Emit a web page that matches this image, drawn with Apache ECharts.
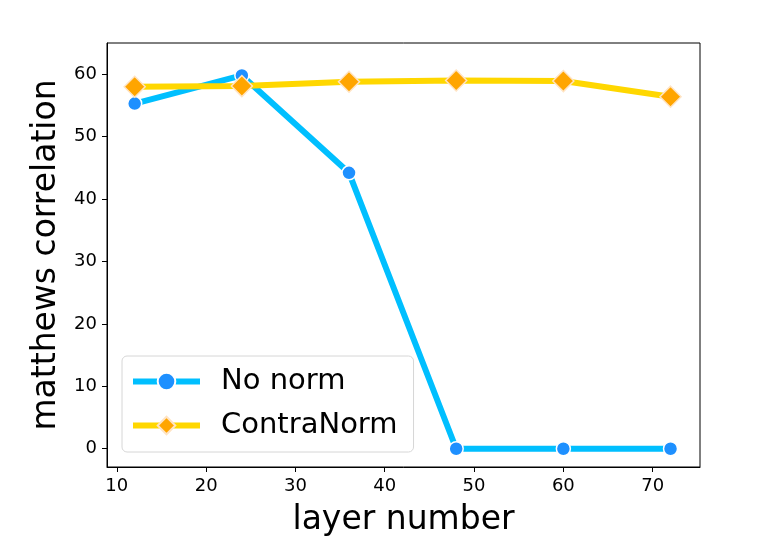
<!DOCTYPE html>
<html lang="en">
<head>
    <meta charset="UTF-8">
    <title>matthews correlation vs layer number</title>
    <script src="https://cdn.jsdelivr.net/npm/echarts@6/dist/echarts.min.js"></script>
    <style>
        html, body { margin: 0; padding: 0; background: #fff; }
        #chart { width: 761px; height: 544px; }
    </style>
</head>
<body>
    <div id="chart"></div>
    <script>
        const layers = [12, 24, 36, 48, 60, 72];
        const noNorm = [55.3, 59.8, 44.2, 0, 0, 0];
        const contraNorm = [58.0, 58.1, 58.8, 59.0, 58.9, 56.4];
        const xTicks = [10, 20, 30, 40, 50, 60, 70];
        const yTicks = [0, 10, 20, 30, 40, 50, 60];

        const font = 'DejaVu Sans';

        function pairs(ys){
            return layers.map((x, i) => [x, ys[i]]);
        }

        const chart = echarts.init(document.getElementById('chart'));
        const option = {
            animation: false,
            grid: {
                left: 107, right: 61, top: 43, bottom: 77,
                show: true, borderColor: '#000', borderWidth: 1
            },
            legend: {
                orient: 'vertical',
                left: 122, top: 356,
                padding: [11, 16, 12, 8],
                itemGap: 15,
                itemWidth: 67,
                itemHeight: 22,
                borderColor: '#d6d6d6',
                borderWidth: 1,
                borderRadius: 5,
                backgroundColor: 'rgba(255,255,255,0.8)',
                lineStyle: { width: 6 },
                textStyle: { fontFamily: font, fontSize: 29, color: '#000', padding: [0, 0, 0, 16] },
                data: ['No norm', 'ContraNorm']
            },
            xAxis: {
                type: 'value',
                min: 8.9, max: 75.3,
                name: 'layer number',
                nameLocation: 'middle',
                nameGap: 37,
                nameTextStyle: { fontFamily: font, fontSize: 33, color: '#000' },
                axisLine: { show: true, onZero: false, lineStyle: { color: '#000' } },
                axisTick: { show: true, length: 5, customValues: xTicks, lineStyle: { color: '#000' } },
                axisLabel: { customValues: xTicks, fontFamily: font, fontSize: 18, color: '#000', margin: 10 },
                splitLine: { show: false }
            },
            yAxis: {
                type: 'value',
                min: -2.93, max: 65,
                name: 'matthews correlation',
                nameLocation: 'middle',
                nameGap: 42,
                nameTextStyle: { fontFamily: font, fontSize: 33, color: '#000' },
                axisLine: { show: true, onZero: false, lineStyle: { color: '#000' } },
                axisTick: { show: true, length: 5, customValues: yTicks, lineStyle: { color: '#000' } },
                axisLabel: { customValues: yTicks, fontFamily: font, fontSize: 18, color: '#000', margin: 10 },
                splitLine: { show: false }
            },
            series: [
                {
                    name: 'No norm',
                    type: 'line',
                    data: pairs(noNorm),
                    symbol: 'circle',
                    symbolSize: 14,
                    lineStyle: { color: '#00bfff', width: 6 },
                    itemStyle: { color: '#1e90ff', borderColor: '#fff', borderWidth: 1.5 },
                    z: 2
                },
                {
                    name: 'ContraNorm',
                    type: 'line',
                    data: pairs(contraNorm),
                    symbol: 'diamond',
                    symbolSize: 21,
                    lineStyle: { color: '#ffd700', width: 6 },
                    itemStyle: { color: '#ffa500', borderColor: '#ffe4c4', borderWidth: 1.5 },
                    z: 3
                }
            ]
        };
        chart.setOption(option);
    </script>
</body>
</html>
